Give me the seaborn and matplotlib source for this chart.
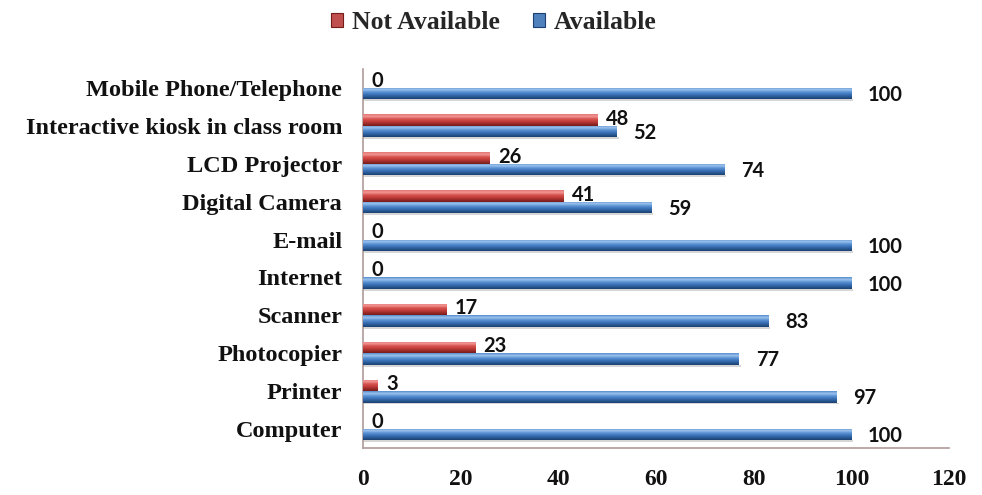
import numpy as np
import pandas as pd
import matplotlib
matplotlib.use("Agg")
import matplotlib.pyplot as plt
from matplotlib.colors import LinearSegmentedColormap
from matplotlib.patches import Patch
import seaborn as sns

# Facilities listed from top to bottom of the chart
facilities = [
    "Mobile Phone/Telephone",
    "Interactive kiosk in class room",
    "LCD Projector",
    "Digital Camera",
    "E-mail",
    "Internet",
    "Scanner",
    "Photocopier",
    "Printer",
    "Computer",
]
not_available = [0, 48, 26, 41, 0, 0, 17, 23, 3, 0]
available = [100, 52, 74, 59, 100, 100, 83, 77, 97, 100]
series = ["Not Available", "Available"]
x_ticks = [0, 20, 40, 60, 80, 100, 120]

df = pd.DataFrame({
    "Facility": facilities * 2,
    "Status": [series[0]] * len(facilities) + [series[1]] * len(facilities),
    "Percent": not_available + available,
})

sns.set_style("white")
serif_bold = dict(family="Liberation Serif", weight="bold")
label_font = dict(family="Lato", weight="bold")

base = {"Not Available": "#c0504d", "Available": "#4f81bd"}
# vertical shading (top -> bottom) giving the bars a rounded look
shades = {
    "Not Available": ["#e47371", "#f19a98", "#d9534f", "#c4403d", "#9e2b29", "#731c1a"],
    "Available": ["#4f89cc", "#a3c6ee", "#5b94d6", "#3e76ba", "#2a5b98", "#1b3f70"],
}

fig = plt.figure(figsize=(9.82, 4.95), dpi=100)
ax = fig.add_axes([0.3697, 0.0949, 0.5967, 0.7657])

sns.barplot(
    data=df, y="Facility", x="Percent", hue="Status",
    hue_order=series, order=facilities, orient="h",
    palette=base, width=0.6, gap=0.0, legend=False, ax=ax,
    edgecolor="none",
)

ax.set_xlim(0, 120)
ax.set_ylim(len(facilities) - 0.5, -0.5)

# shade every bar with a vertical gradient clipped to its rectangle
for container, name in zip(ax.containers, series):
    cmap = LinearSegmentedColormap.from_list(name, shades[name])
    grad = np.linspace(0, 1, 64).reshape(-1, 1)
    for bar in container:
        x0, y0 = bar.get_x(), bar.get_y()
        w, h = bar.get_width(), bar.get_height()
        if w <= 0:
            continue
        ylo, yhi = min(y0, y0 + h), max(y0, y0 + h)
        # soft shadow under the bar
        ax.add_patch(plt.Rectangle((x0, yhi), w + 0.4, 0.05, color="#d6d6d6",
                                   zorder=1.5, lw=0))
        im = ax.imshow(grad, cmap=cmap, aspect="auto", origin="lower",
                       extent=[x0, x0 + w, ylo, yhi], zorder=3,
                       interpolation="bicubic")
        im.set_clip_path(bar)

ax.set_xlim(0, 120)
ax.set_ylim(len(facilities) - 0.5, -0.5)
ax.set_aspect("auto")

# value labels at the end of each bar
for container, name in zip(ax.containers, series):
    vals = not_available if name == "Not Available" else available
    dx = 6 if name == "Not Available" else 12
    dy = 1 if name == "Not Available" else -1
    for bar, v in zip(container, vals):
        yc = bar.get_y() + bar.get_height() / 2
        ax.annotate(f"{v}", xy=(bar.get_x() + bar.get_width(), yc),
                    xytext=(dx, dy), textcoords="offset points",
                    ha="left", va="center", fontsize=14.5, color="#111111",
                    zorder=5, **label_font)

axis_col = "#b09a9a"
for s in ["top", "right"]:
    ax.spines[s].set_visible(False)
for s in ["left", "bottom"]:
    ax.spines[s].set_color(axis_col)
    ax.spines[s].set_linewidth(1.2)

ax.set_xticks(x_ticks)
ax.set_xticklabels([str(t) for t in x_ticks], fontsize=17, **serif_bold)
ax.set_yticks(range(len(facilities)))
ax.set_yticklabels(facilities, fontsize=17.5, **serif_bold)
ax.set_yticks(np.arange(-0.5, len(facilities), 1), minor=True)
ax.tick_params(axis="x", direction="out", length=5, color=axis_col, width=1.2,
               pad=10, labelcolor="#111111")
ax.tick_params(axis="y", which="major", length=0, pad=15, labelcolor="#111111")
ax.tick_params(axis="y", which="minor", direction="out", length=5,
               color=axis_col, width=1.2)
ax.set_xlabel("")
ax.set_ylabel("")
ax.grid(False)

handles = [Patch(facecolor=base[s], edgecolor=shades[s][-1], linewidth=0.8)
           for s in series]
fig.legend(handles, series, loc="center", bbox_to_anchor=(0.503, 0.955),
           ncol=2, frameon=False, handlelength=0.45, handleheight=0.45,
           handletextpad=0.35, columnspacing=1.3,
           prop=dict(family="Liberation Serif", weight="bold", size=18.5))

fig.savefig("out.png", dpi=100, facecolor="white")
